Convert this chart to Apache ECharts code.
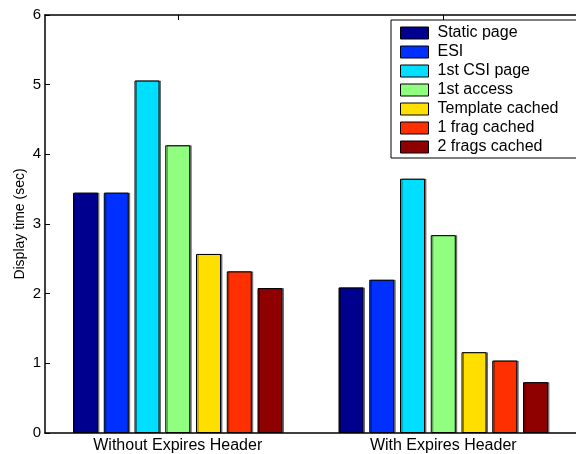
<!DOCTYPE html>
<html>
<head>
<meta charset="utf-8">
<script src="https://cdn.jsdelivr.net/npm/echarts@6/dist/echarts.min.js"></script>
<style>html,body{margin:0;padding:0;background:#fff;}#c{width:576px;height:454px;}</style>
</head>
<body>
<div id="c"></div>
<script>
const categories = ['Without Expires Header', 'With Expires Header'];
const seriesNames = ['Static page', 'ESI', '1st CSI page', '1st access', 'Template cached', '1 frag cached', '2 frags cached'];
const staticPage = [3.45, 2.09];
const esi = [3.45, 2.20];
const csiPage = [5.06, 3.65];
const firstAccess = [4.13, 2.84];
const templateCached = [2.57, 1.16];
const oneFragCached = [2.32, 1.04];
const twoFragsCached = [2.08, 0.73];
const yTicks = [0, 1, 2, 3, 4, 5, 6];
const colors = ['#00008F', '#0030FF', '#00DFFF', '#90FF80', '#FFDF00', '#FF3000', '#8F0000'];

const values = [staticPage, esi, csiPage, firstAccess, templateCached, oneFragCached, twoFragsCached];
const font = 'Liberation Sans, Arial, Helvetica, sans-serif';

const chart = echarts.init(document.getElementById('c'), null, {renderer: 'canvas'});
chart.setOption({
  animation: false,
  backgroundColor: '#fff',
  textStyle: {fontFamily: font},
  grid: {left: 45, top: 15, bottom: 21, right: -5, containLabel: false},
  legend: {
    orient: 'vertical',
    left: 391, top: 20,
    data: seriesNames,
    icon: 'rect',
    itemWidth: 28, itemHeight: 12, itemGap: 3,
    padding: [5, 20, 3, 9],
    borderColor: '#000', borderWidth: 1, backgroundColor: '#fff',
    textStyle: {fontSize: 16, lineHeight: 16, color: '#000', fontFamily: font, padding: [0, 0, 0, 4]},
    itemStyle: {borderColor: '#000', borderWidth: 1},
    selectedMode: false
  },
  xAxis: [{
    type: 'category', data: categories, position: 'bottom',
    axisLine: {lineStyle: {color: '#000', width: 1.5}},
    axisTick: {show: true, inside: true, alignWithLabel: true, length: 5, lineStyle: {color: '#000'}},
    axisLabel: {fontSize: 16, color: '#000', margin: 5, fontFamily: font},
    splitLine: {show: false}
  }, {
    type: 'category', data: categories, position: 'top',
    axisLine: {lineStyle: {color: '#000', width: 1.5}},
    axisTick: {show: true, inside: true, alignWithLabel: true, length: 5, lineStyle: {color: '#000'}},
    axisLabel: {show: false}
  }],
  yAxis: {
    type: 'value', min: 0, max: 6, interval: 1,
    data: yTicks,
    name: 'Display time (sec)', nameLocation: 'middle', nameGap: 18,
    nameMoveOverlap: false,
    nameTextStyle: {fontSize: 14, color: '#000', fontFamily: font},
    axisLine: {show: true, lineStyle: {color: '#000', width: 1.5}},
    axisTick: {show: true, inside: true, length: 5, lineStyle: {color: '#000'}},
    axisLabel: {fontSize: 15, color: '#000', margin: 4, fontFamily: font},
    splitLine: {show: false}
  },
  series: seriesNames.map((n, i) => ({
    name: n, type: 'bar', xAxisIndex: 0,
    data: values[i],
    barWidth: 25, barGap: '23%',
    itemStyle: {color: colors[i], borderColor: '#000', borderWidth: 1,
      shadowColor: 'rgba(0,0,0,0.45)', shadowOffsetX: 1.5, shadowOffsetY: 0, shadowBlur: 0}
  }))
});
</script>
</body>
</html>
